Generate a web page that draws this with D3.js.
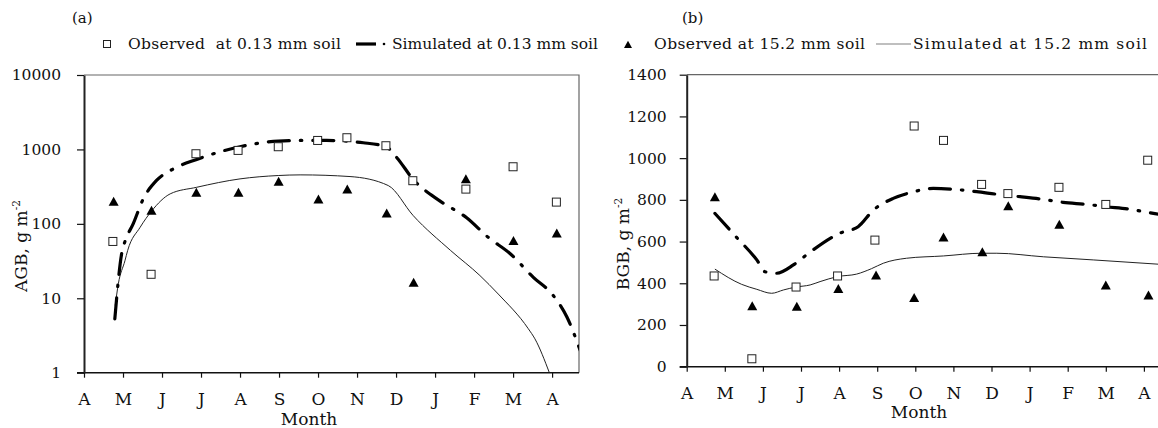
<!DOCTYPE html>
<html>
<head>
<meta charset="utf-8">
<script src="https://cdn.jsdelivr.net/npm/d3@7"></script>
<style>
  body { margin: 0; background: #fff; }
  svg { display: block; }
  text { font-family: "DejaVu Serif", "Liberation Serif", serif; fill: #111; }
</style>
</head>
<body>
<div id="chart"></div>
<script>
// month index: 0 = April tick, 1 = May, ... 12 = next April
const monthLabels = ["A", "M", "J", "J", "A", "S", "O", "N", "D", "J", "F", "M", "A"];

// (a) AGB, log scale
const agbObsShallowX = [0.74, 1.72, 2.87, 3.95, 4.98, 5.99, 6.74, 7.74, 8.43, 9.79, 11.0, 12.11];
const agbObsShallowY = [58, 21, 875, 970, 1087, 1320, 1436, 1121, 380, 293, 585, 196];
const agbObsDeepX = [0.76, 1.73, 2.88, 3.96, 4.99, 6.01, 6.75, 7.76, 8.45, 9.79, 11.01, 12.12];
const agbObsDeepY = [195, 148, 258, 258, 362, 210, 286, 136, 16, 394, 58, 73];
const agbSimShallowX = [0.79, 0.97, 1.05, 1.26, 1.52, 1.86, 2.29, 2.89, 4.0, 4.98, 5.54, 6.22, 7.16, 7.74, 8.02, 8.44, 9.13, 9.81, 10.36, 10.92, 11.52, 12.03, 12.38, 12.72];
const agbSimShallowY = [5.3, 41, 58, 100, 217, 383, 548, 734, 1087, 1295, 1320, 1320, 1230, 1087, 774, 395, 202, 121, 66, 40, 19.1, 10.9, 5.6, 2.0];
const agbSimDeepX = [0.8, 0.88, 1.05, 1.12, 1.44, 1.73, 2.21, 2.89, 4.0, 4.98, 5.54, 6.82, 7.8, 8.44, 9.4, 10.15, 10.62, 11.39, 11.56, 11.93];
const agbSimDeepY = [8, 15.6, 32, 44, 90, 148, 253, 310, 402, 446, 455, 432, 327, 129, 43.8, 20.2, 11.4, 3.9, 2.85, 1.0];

// (b) BGB, linear scale
const bgbObsShallowX = [0.72, 1.71, 2.87, 3.96, 4.94, 5.97, 6.74, 7.74, 8.43, 9.77, 11.0, 12.1];
const bgbObsShallowY = [435, 38, 382, 435, 607, 1154, 1085, 874, 830, 860, 778, 990];
const bgbObsDeepX = [0.74, 1.72, 2.89, 3.98, 4.97, 5.97, 6.74, 7.76, 8.44, 9.78, 11.0, 12.12];
const bgbObsDeepY = [810, 288, 285, 371, 435, 328, 618, 547, 767, 679, 387, 339];
const bgbSimShallowX = [0.74, 1.31, 1.84, 2.06, 2.36, 2.8, 3.08, 3.32, 4.02, 4.5, 4.9, 5.42, 5.9, 6.47, 7.04, 7.61, 8.18, 8.75, 9.32, 9.88, 10.5, 11.02, 11.63, 12.25, 12.5];
const bgbSimShallowY = [735, 620, 512, 455, 448, 488, 527, 560, 640, 671, 751, 807, 836, 855, 850, 839, 826, 815, 803, 788, 778, 767, 755, 735, 728];
const bgbSimDeepX = [0.74, 1.44, 1.84, 2.23, 2.54, 2.87, 3.24, 3.5, 3.96, 4.46, 4.85, 5.16, 5.77, 6.74, 7.74, 8.14, 9.36, 10.67, 12.5];
const bgbSimDeepY = [468, 395, 371, 352, 368, 382, 392, 408, 432, 444, 470, 496, 520, 531, 544, 544, 527, 512, 490];

const W = 1158, H = 428;
const xFont = 17, yFont = 15.5, labFont = 17;

const svg = d3.select("#chart").append("svg")
    .attr("width", W).attr("height", H)
    .attr("viewBox", [0, 0, W, H]);

const zip = (xs, ys) => xs.map((x, i) => [x, ys[i]]);

function square(g, x, y, s) {
    g.append("rect").attr("x", x - s / 2).attr("y", y - s / 2)
        .attr("width", s).attr("height", s)
        .attr("fill", "#fff").attr("stroke", "#222").attr("stroke-width", 1);
}
function triangle(g, x, y, w) {
    const h = w * 0.9;
    g.append("path")
        .attr("d", `M${x},${y - h * 0.6}L${x + w / 2},${y + h * 0.4}L${x - w / 2},${y + h * 0.4}Z`)
        .attr("fill", "#000");
}

function panel(opt) {
    const { left, right, top, bottom, xMax, yScaleType, yDomain, yTicks, yPad, id } = opt;
    const x = d3.scaleLinear([0, xMax], [left, right]);
    const y = yScaleType(yDomain, [bottom, top]);

    const g = svg.append("g");

    g.append("clipPath").attr("id", id)
        .append("rect").attr("x", left).attr("y", top)
        .attr("width", right - left).attr("height", bottom - top);

    // frame (top and right)
    g.append("path")
        .attr("d", `M${left},${top}H${right}V${bottom}`)
        .attr("fill", "none").attr("stroke", "#666").attr("stroke-width", 1.2);

    const xAxis = d3.axisBottom(x)
        .tickValues(d3.range(monthLabels.length))
        .tickFormat(i => monthLabels[i])
        .tickSize(5).tickPadding(15).tickSizeOuter(0);
    g.append("g").attr("transform", `translate(0,${bottom})`)
        .call(xAxis)
        .call(a => a.select(".domain").attr("d", `M${left - 7},0H${right}`).attr("stroke", "#111").attr("stroke-width", 1.5))
        .call(a => a.selectAll(".tick line").attr("stroke", "#111").attr("stroke-width", 1.2))
        .call(a => a.selectAll("text").attr("font-size", xFont).attr("font-family", null));

    const yAxis = d3.axisLeft(y)
        .tickValues(yTicks)
        .tickFormat(d3.format("d"))
        .tickSize(7).tickPadding(yPad).tickSizeOuter(0);
    g.append("g").attr("transform", `translate(${left},0)`)
        .call(yAxis)
        .call(a => a.select(".domain").attr("stroke", "#222").attr("stroke-width", 2))
        .call(a => a.selectAll(".tick line").attr("stroke", "#111").attr("stroke-width", 1.2))
        .call(a => a.selectAll("text").attr("font-size", yFont).attr("font-family", null));

    const plot = g.append("g").attr("clip-path", `url(#${id})`);
    const line = d3.line().x(d => x(d[0])).y(d => y(d[1])).curve(d3.curveMonotoneX);

    plot.append("path").datum(zip(opt.simDeepX, opt.simDeepY))
        .attr("d", line).attr("fill", "none").attr("stroke", "#222").attr("stroke-width", 1);
    plot.append("path").datum(zip(opt.simShallowX, opt.simShallowY))
        .attr("d", line).attr("fill", "none").attr("stroke", "#000")
        .attr("stroke-width", 3.2).attr("stroke-dasharray", "21,11,1.5,11")
        .attr("stroke-linecap", "round");

    zip(opt.obsShallowX, opt.obsShallowY).forEach(d => square(plot, x(d[0]), y(d[1]), 8));
    zip(opt.obsDeepX, opt.obsDeepY).forEach(d => triangle(plot, x(d[0]), y(d[1]), 10));

    g.append("text").attr("x", opt.monthX).attr("y", opt.monthY)
        .attr("text-anchor", "middle").attr("font-size", labFont).text("Month");

    const yl = g.append("text")
        .attr("transform", `translate(${opt.ylabX},${opt.ylabY}) rotate(-90)`)
        .attr("text-anchor", "middle").attr("font-size", labFont);
    yl.append("tspan").text(opt.ylab);
    yl.append("tspan").attr("font-size", labFont * 0.62).attr("dy", -7).text("-2");

    g.append("text").attr("x", opt.tagX).attr("y", 23).attr("font-size", 15).text(opt.tag);
}

panel({
    id: "clipA", tag: "(a)", tagX: 72,
    left: 84, right: 579, top: 75, bottom: 372.7, xMax: 12.69,
    yScaleType: d3.scaleLog, yDomain: [1, 10000], yTicks: [1, 10, 100, 1000, 10000], yPad: 16,
    obsShallowX: agbObsShallowX, obsShallowY: agbObsShallowY,
    obsDeepX: agbObsDeepX, obsDeepY: agbObsDeepY,
    simShallowX: agbSimShallowX, simShallowY: agbSimShallowY,
    simDeepX: agbSimDeepX, simDeepY: agbSimDeepY,
    monthX: 309, monthY: 425, ylab: "AGB, g m", ylabX: 27, ylabY: 246
});

panel({
    id: "clipB", tag: "(b)", tagX: 682,
    left: 686.7, right: 1160, top: 74.7, bottom: 366.7, xMax: (1160 - 686.7) / 38.1,
    yScaleType: d3.scaleLinear, yDomain: [0, 1400], yTicks: d3.range(0, 1401, 200), yPad: 13,
    obsShallowX: bgbObsShallowX, obsShallowY: bgbObsShallowY,
    obsDeepX: bgbObsDeepX, obsDeepY: bgbObsDeepY,
    simShallowX: bgbSimShallowX, simShallowY: bgbSimShallowY,
    simDeepX: bgbSimDeepX, simDeepY: bgbSimDeepY,
    monthX: 919, monthY: 418, ylab: "BGB, g m", ylabX: 629, ylabY: 244
});

// legend
const legFont = 15.5;
const lg = svg.append("g");
const ly = 44;
square(lg, 107, ly, 7);
lg.append("text").attr("x", 128).attr("y", ly + 5).attr("font-size", legFont)
    .attr("textLength", 213).attr("lengthAdjust", "spacing")
    .attr("xml:space", "preserve").text("Observed  at 0.13 mm soil");
lg.append("line").attr("x1", 356).attr("x2", 376).attr("y1", ly).attr("y2", ly)
    .attr("stroke", "#000").attr("stroke-width", 3.2);
lg.append("circle").attr("cx", 384).attr("cy", ly).attr("r", 1.3).attr("fill", "#000");
lg.append("text").attr("x", 392).attr("y", ly + 5).attr("font-size", legFont)
    .attr("textLength", 206).attr("lengthAdjust", "spacing").text("Simulated at 0.13 mm soil");
triangle(lg, 628, ly + 1, 8);
lg.append("text").attr("x", 654).attr("y", ly + 5).attr("font-size", legFont)
    .attr("textLength", 211).attr("lengthAdjust", "spacing").text("Observed at 15.2 mm soil");
lg.append("line").attr("x1", 876).attr("x2", 911).attr("y1", ly).attr("y2", ly)
    .attr("stroke", "#aaa").attr("stroke-width", 1.5);
lg.append("text").attr("x", 913).attr("y", ly + 5).attr("font-size", legFont)
    .attr("textLength", 234).attr("lengthAdjust", "spacing").text("Simulated at 15.2 mm soil");
</script>
</body>
</html>
